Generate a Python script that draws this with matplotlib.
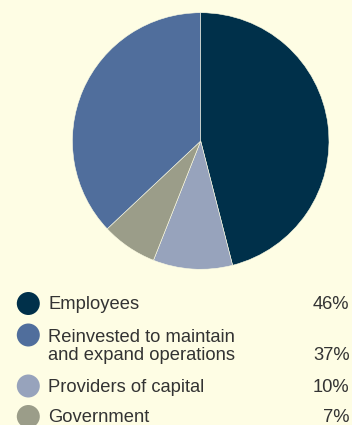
import matplotlib
matplotlib.use('Agg')
import matplotlib.pyplot as plt
from matplotlib.patches import Circle

# share of value added, in legend order
labels = ['Employees', 'Reinvested to maintain\nand expand operations',
          'Providers of capital', 'Government']
shares = [46, 37, 10, 7]
colors = ['#00304a', '#506e9c', '#97a3bc', '#9b9d89']

# the pie runs clockwise from the top: employees, capital, government, reinvested
pie_order = [0, 2, 3, 1]

bg = '#fefde4'
W, H = 352, 425

fig = plt.figure(figsize=(W / 100, H / 100), dpi=100, facecolor=bg)
ax = fig.add_axes([0, 0, 1, 1])
ax.set_facecolor(bg)

ax.pie([shares[i] for i in pie_order],
       colors=[colors[i] for i in pie_order],
       startangle=90, counterclock=False,
       center=(200.7, H - 141), radius=128.3,
       wedgeprops=dict(edgecolor=bg, linewidth=0.4),
       frame=True)
ax.set_xlim(0, W)
ax.set_ylim(0, H)
ax.set_aspect('equal')
ax.axis('off')

# legend rows: marker centre y, baseline of last text line (pixels from top)
marker_y = [303.5, 335, 386, 416.5]
text_y = [309, 360, 391.5, 421.5]
for lab, val, col, my, ty in zip(labels, shares, colors, marker_y, text_y):
    ax.add_patch(Circle((28.3, H - my), 11.5, color=col, lw=0))
    ax.text(48, H - ty, lab, fontsize=13.2, color='#333333',
            family='Liberation Sans', va='baseline', ha='left',
            linespacing=1.05)
    ax.text(349.5, H - ty, '%d%%' % val, fontsize=13.2,
            color='#333333', family='Liberation Sans',
            va='baseline', ha='right')

fig.savefig('out.png', dpi=100, facecolor=bg)
